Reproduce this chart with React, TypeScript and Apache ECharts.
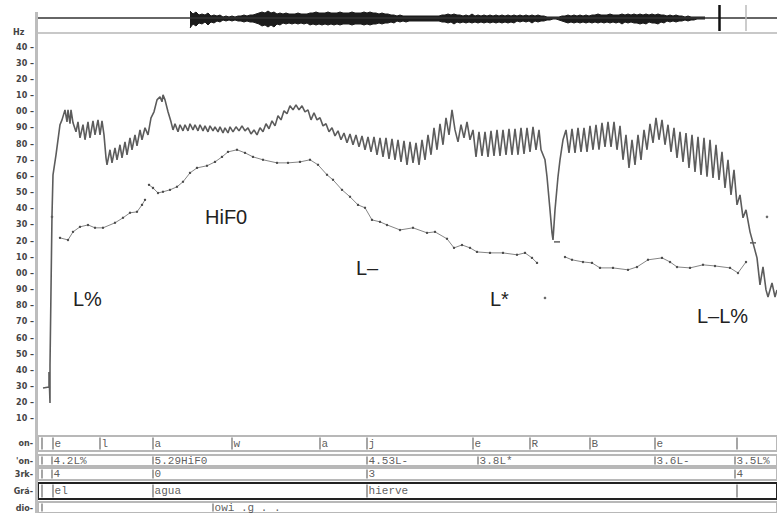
import React, { useEffect, useRef } from "react";
import * as echarts from "echarts";

// time in ms, pitch in Hz
const T_MAX = 2217;

// upper (jagged) contour [ms, Hz]
const upperContour: number[][] = [
  [15,29.1],[33,29.7],[33,39.0],[36,19.8],[36,43.3],[39,89.8],[42,136.2],[45,161],[54,173.4],[66,192],[72,195],[81,201.2],[87,193.8],[90,201.2],[96,192.6],[99,201.2],[105,193.2],[114,187.6],[120,193.8],[126,183.9],[135,192],[141,182.7],[150,193.8],[156,183.9],[165,194.4],[171,185.7],[180,195],[186,185.7],[192,194.4],[198,185.7],[204,171.5],[207,167.2],[216,176.5],[222,168.4],[231,177.7],[237,170.3],[246,179.6],[252,171.5],[261,181.4],[267,173.4],[276,183.9],[282,176.5],[291,185.7],[297,178.9],[306,188.8],[312,182.7],[321,190.1],[330,185.7],[339,196.3],[348,200],[357,207.4],[366,209.3],[372,206.2],[375,210.5],[381,207.4],[390,200],[399,193.8],[405,188.8],[411,192.6],[420,187.6],[426,192],[435,188.2],[441,192],[450,188.2],[456,192.6],[465,188.8],[471,192],[480,188.2],[486,192],[495,188.2],[501,191.3],[510,187.6],[516,191.3],[525,188.2],[531,190.7],[540,187.6],[546,190.7],[555,186.9],[561,190.1],[570,186.9],[576,190.7],[585,187.6],[594,190.7],[603,188.2],[612,191.3],[621,188.2],[630,190.1],[639,186.3],[648,188.8],[657,185.7],[666,190.1],[675,187.6],[684,192.6],[693,189.5],[702,194.4],[711,191.3],[720,197.5],[729,195],[738,200.6],[747,198.8],[756,203.7],[765,201.2],[774,204.3],[783,201.2],[792,203.7],[801,200],[810,201.2],[819,195],[828,199.4],[837,195],[846,196.3],[855,191.3],[864,192.6],[873,187.6],[882,190.1],[891,185.1],[900,188.2],[909,182.7],[918,186.9],[927,180.8],[936,186.3],[945,179.6],[954,185.7],[963,178.3],[972,185.1],[981,176.5],[990,184.5],[999,175.2],[1008,184.5],[1017,173.4],[1026,183.9],[1035,172.1],[1044,183.9],[1053,170.9],[1062,183.3],[1071,170.3],[1080,182.7],[1089,169],[1098,182],[1107,167.2],[1116,181.4],[1125,168.4],[1134,180.8],[1143,167.2],[1152,182.7],[1161,170.3],[1170,185.7],[1179,173.4],[1188,190.1],[1197,176.5],[1206,192.6],[1215,179.6],[1224,196.3],[1233,185.7],[1242,201.2],[1251,188.8],[1260,181.4],[1269,192],[1278,183.9],[1287,193.8],[1296,182.7],[1305,188.8],[1314,172.1],[1323,187.6],[1332,172.7],[1341,187.6],[1350,172.1],[1359,188.2],[1368,172.7],[1377,188.8],[1386,172.7],[1395,188.8],[1404,173.4],[1413,189.5],[1422,173.4],[1431,189.5],[1440,173.4],[1449,190.1],[1458,174],[1467,190.1],[1476,175.2],[1485,190.7],[1494,176.5],[1503,188.8],[1509,176.5],[1521,170.3],[1527,159.8],[1536,139.3],[1542,125.1],[1545,120.7],[1551,139.3],[1560,159.8],[1566,170.3],[1575,182.7],[1584,188.8],[1593,174.6],[1602,189.5],[1611,174.6],[1620,190.1],[1629,175.2],[1638,190.1],[1647,175.2],[1656,191.3],[1665,176.5],[1674,192],[1683,176.5],[1692,193.2],[1701,178.3],[1710,193.8],[1719,178.3],[1728,193.8],[1737,176.5],[1746,191.3],[1755,170.3],[1764,185.7],[1773,165.3],[1782,182.7],[1791,167.2],[1800,185.7],[1809,170.3],[1818,188.8],[1827,176.5],[1836,192.6],[1845,180.8],[1854,196.3],[1863,182.7],[1872,195],[1881,179.6],[1890,192],[1899,175.2],[1908,190.1],[1917,171.5],[1926,187.6],[1935,169],[1944,186.9],[1953,165.3],[1962,185.7],[1971,162.8],[1980,184.5],[1989,161],[1998,183.9],[2007,159.8],[2016,182.7],[2025,159.1],[2034,179.6],[2043,157.9],[2052,175.2],[2061,152.9],[2070,170.3],[2079,148.6],[2088,164.1],[2097,142.4],[2106,148.6],[2115,134.4],[2124,139.3],[2136,125.7],[2145,118.9],[2157,109.6],[2166,92.9],[2175,104],[2184,89.8],[2190,85.4],[2202,94.1],[2211,85.4],[2217,89.8]
];

// F0 contour with dots [ms, Hz]; null = gap
const f0Contour: (number[] | null)[] = [
  [66,122],[90,120.7],[105,125.7],[126,128.8],[150,130],[171,128.2],[195,128.2],[231,131.3],[255,134.4],[276,137.5],[297,138.1],[312,142.4],[321,145.5],
  null,
  [333,154.8],[345,152.9],[360,149.8],[375,150.5],[396,151.7],[417,153.6],[435,156.7],[456,162.2],[477,165.3],[507,166.6],[531,169],[552,172.1],[570,175.2],[597,176.5],[621,174.6],[645,172.1],[675,170.3],[717,168.4],[750,168.4],[786,169],[816,170.3],[840,167.2],[867,161],[885,157.9],[912,151.7],[936,147.4],[960,142.4],[981,140.6],[1002,133.1],[1026,131.9],[1047,130],[1086,126.9],[1125,128.2],[1167,125.1],[1191,125.7],[1227,121.4],[1248,115.8],[1272,117.6],[1296,115.8],[1317,113.3],[1356,112.7],[1395,112.7],[1437,111.5],[1461,112.7],[1482,109.6],[1497,106.5],
  null,
  [1581,110.2],[1602,108.4],[1635,107.1],[1662,106.5],[1686,103.4],[1725,103.4],[1770,102.2],[1797,104],[1830,108.4],[1872,109.6],[1896,107.1],[1917,104],[1956,103.4],[1995,105.3],[2031,104.6],[2076,103.4],[2100,100.3],[2124,107.1]
];

const isolatedDots: number[][] = [[42,135],[1521,84.8],[2187,135]];
const isolatedDashes: number[][] = [[1557,119.5],[2145,118.9]];

// waveform envelope [ms, positive amplitude, negative amplitude]
const waveEnvelope: number[][] = [
  [456,7,-10],[465,4,-6],[474,6,-8],[483,3,-5],[492,4,-6],[501,3,-4],[510,5,-7],[519,2,-4],[528,3,-5],[537,2,-3],[546,3,-4],[555,1,-2],[564,2,-3],[573,1,-2],[582,2,-3],[591,1,-2],[600,2,-3],[609,2,-3],[618,3,-4],[627,2,-3],[636,3,-4],[645,3,-4],[654,4,-5],[663,5,-6],[672,6,-8],[681,5,-7],[690,7,-9],[699,5,-7],[708,6,-9],[717,4,-6],[726,5,-7],[735,4,-5],[744,5,-6],[753,4,-5],[762,4,-6],[771,4,-5],[780,5,-6],[789,4,-5],[798,4,-6],[807,4,-5],[816,5,-7],[825,5,-6],[834,6,-7],[843,5,-6],[852,5,-7],[861,5,-6],[870,6,-7],[879,5,-6],[888,5,-7],[897,5,-6],[906,6,-7],[915,5,-6],[924,5,-6],[933,5,-6],[942,6,-7],[951,5,-6],[960,5,-6],[969,5,-6],[978,6,-7],[987,5,-6],[996,6,-7],[1005,5,-6],[1014,5,-6],[1023,4,-5],[1032,5,-6],[1041,4,-5],[1050,4,-5],[1059,3,-4],[1068,3,-5],[1077,2,-3],[1086,3,-4],[1095,2,-3],[1104,2,-4],[1113,2,-3],[1122,2,-3],[1131,2,-3],[1140,2,-3],[1149,2,-3],[1158,2,-3],[1167,2,-3],[1176,2,-3],[1185,2,-3],[1194,2,-3],[1203,2,-3],[1212,3,-4],[1221,3,-4],[1230,4,-5],[1239,3,-4],[1248,4,-6],[1257,3,-4],[1266,3,-5],[1275,2,-4],[1284,3,-5],[1293,2,-4],[1302,4,-5],[1311,2,-4],[1320,3,-5],[1329,2,-4],[1338,3,-5],[1347,2,-4],[1356,3,-5],[1365,2,-4],[1374,3,-5],[1383,2,-4],[1392,3,-5],[1401,2,-4],[1410,3,-5],[1419,2,-4],[1428,3,-5],[1437,2,-3],[1446,3,-4],[1455,2,-3],[1464,3,-4],[1473,2,-3],[1482,3,-5],[1491,2,-3],[1500,3,-4],[1509,2,-3],[1518,2,-3],[1527,1,-2],[1536,1,-2],[1545,1,-1],[1554,1,-1],[1563,1,-2],[1572,2,-3],[1581,2,-4],[1590,3,-5],[1599,2,-4],[1608,3,-5],[1617,2,-4],[1626,3,-5],[1635,2,-4],[1644,3,-5],[1653,2,-4],[1662,3,-5],[1671,3,-4],[1680,4,-5],[1689,3,-4],[1698,3,-5],[1707,3,-4],[1716,4,-5],[1725,3,-4],[1734,3,-5],[1743,3,-4],[1752,4,-6],[1761,3,-4],[1770,4,-5],[1779,3,-4],[1788,4,-5],[1797,3,-5],[1806,4,-6],[1815,3,-5],[1824,4,-6],[1833,3,-4],[1842,4,-5],[1851,3,-5],[1860,4,-6],[1869,3,-4],[1878,3,-5],[1887,2,-3],[1896,3,-4],[1905,2,-3],[1914,3,-4],[1923,2,-3],[1932,2,-3],[1941,1,-2],[1950,2,-3],[1959,1,-2],[1968,1,-2],[1977,1,-1],[1986,1,-1],[2001,1,-1]
];
const waveMarkDark = 2043;
const waveMarkLight = 2124;

// y tick labels (as printed, truncated to two digits)
const yTickLabels = ["10","20","30","40","50","60","70","80","90","00","10","20","30","40","50","60","70","80","90","00","10","20","30","40"];

// annotation tiers
const tierPhonT = [12, 45, 186, 345, 582, 846, 987, 1305, 1476, 1656, 1851, 2097];
const tierPhonLab = ["", "e", "l", "a", "w", "a", "j", "e", "R", "B", "e", ""];
const tierToneT = [12, 42, 345, 987, 1320, 1851, 2091];
const tierToneLab = ["", "4.2L%", "5.29HiF0", "4.53L-", "3.8L*", "3.6L-", "3.5L%"];
const tierBrkT = [12, 42, 345, 987, 2091];
const tierBrkLab = ["", "4", "0", "3", "4"];
const tierWordT = [12, 45, 345, 987, 2097];
const tierWordLab = ["", "el", "agua", "hierve", ""];
const tierMiscT = [12, 525];
const tierMiscLab = ["", "owi .g . ."];
const tierNames = ["on-", "'on-", "3rk-", "Grá-", "dio-"];

// pitch-accent annotations
const accentLabels = ["HiF0", "L%", "L–", "L*", "L–L%"];

export default function App() {
  const ref = useRef<HTMLDivElement>(null);
  useEffect(() => {
    document.body.style.margin = "0";
    if (!ref.current) return;
    const chart = echarts.init(ref.current, undefined, { renderer: "svg" });

    const tiers = [
      { t: tierPhonT, lab: tierPhonLab, top: 436, h: 15, border: "#b8b8b8" },
      { t: tierToneT, lab: tierToneLab, top: 455, h: 11, border: "#b8b8b8" },
      { t: tierBrkT, lab: tierBrkLab, top: 468, h: 12, border: "#b8b8b8" },
      { t: tierWordT, lab: tierWordLab, top: 483, h: 16, border: "#222" },
      { t: tierMiscT, lab: tierMiscLab, top: 502, h: 11, border: "#b8b8b8" },
    ];

    const grids: any[] = [
      { left: 38, right: 0, top: 5, height: 26 },
      { left: 38, right: 0, top: 31, height: 404 },
      ...tiers.map((r) => ({
        left: 38, right: 0, top: r.top, height: r.h, show: true,
        borderColor: r.border, borderWidth: 2, backgroundColor: "transparent",
      })),
    ];
    const xAxes: any[] = grids.map((_, i) => ({
      type: "value", gridIndex: i, min: 0, max: T_MAX, show: false,
    }));
    const yAxes: any[] = [
      { type: "value", gridIndex: 0, min: -13, max: 13, show: false },
      {
        type: "value", gridIndex: 1, min: 0, max: 250, interval: 10,
        axisLine: { show: false }, axisTick: { show: false }, splitLine: { show: false },
        axisLabel: {
          margin: 4, fontSize: 8, fontWeight: "bold", color: "#444", fontFamily: "DejaVu Sans",
          formatter: (v: number) => {
            const i = Math.round(v / 10) - 1;
            return i >= 0 && i < yTickLabels.length ? yTickLabels[i] + " –" : "";
          },
        },
      },
      ...tiers.map((_, i) => ({ type: "value", gridIndex: i + 2, min: 0, max: 1, show: false })),
    ];

    const series: any[] = [
      {
        type: "line", xAxisIndex: 0, yAxisIndex: 0, showSymbol: false,
        data: waveEnvelope.map((w) => [w[0], w[1]]),
        lineStyle: { color: "#1c1c1c", width: 1 },
        areaStyle: { color: "#1c1c1c", opacity: 1, origin: 0 },
        markLine: {
          silent: true, symbol: "none", label: { show: false },
          data: [
            { yAxis: 0, lineStyle: { color: "#333", width: 1.5, type: "solid" } },
            { xAxis: waveMarkDark, lineStyle: { color: "#111", width: 2.5, type: "solid" } },
            { xAxis: waveMarkLight, lineStyle: { color: "#bbb", width: 1.5, type: "solid" } },
          ],
        },
      },
      {
        type: "line", xAxisIndex: 0, yAxisIndex: 0, showSymbol: false,
        data: waveEnvelope.map((w) => [w[0], w[2]]),
        lineStyle: { color: "#1c1c1c", width: 1 },
        areaStyle: { color: "#1c1c1c", opacity: 1, origin: 0 },
      },
      {
        type: "line", xAxisIndex: 1, yAxisIndex: 1, showSymbol: false,
        data: upperContour,
        lineStyle: { color: "#5c5c5c", width: 1.6 },
      },
      {
        type: "line", xAxisIndex: 1, yAxisIndex: 1, connectNulls: false,
        symbol: "circle", symbolSize: 2.4,
        data: f0Contour.map((p) => (p ? p : ["-", "-"])),
        itemStyle: { color: "#4a4a4a" },
        lineStyle: { color: "#858585", width: 1 },
      },
      {
        type: "scatter", xAxisIndex: 1, yAxisIndex: 1, symbol: "circle", symbolSize: 2.6,
        data: isolatedDots, itemStyle: { color: "#444" },
      },
      {
        type: "scatter", xAxisIndex: 1, yAxisIndex: 1, symbol: "rect", symbolSize: [6, 1.6],
        data: isolatedDashes, itemStyle: { color: "#444" },
      },
      ...tiers.map((r, i) => ({
        type: "scatter", xAxisIndex: i + 2, yAxisIndex: i + 2,
        symbol: "rect", symbolSize: [1.2, r.h - 3],
        itemStyle: { color: "#444" },
        data: r.t.map((t, k) => ({ value: [t, 0.5], name: r.lab[k] })),
        label: {
          show: true, position: "right", distance: 1,
          formatter: (p: any) => p.name,
          fontFamily: "Liberation Mono", fontSize: 11, color: "#333",
        },
      })),
    ];

    const annPos = [
      { x: 205, y: 217 },
      { x: 73, y: 299 },
      { x: 356, y: 268 },
      { x: 490, y: 299 },
      { x: 697, y: 316 },
    ];
    const rowY = [443, 461, 474, 491, 508];

    const graphic: any[] = [
      { type: "rect", shape: { x: 35, y: 12, width: 3, height: 501 }, style: { fill: "#bdbdbd" }, silent: true },
      { type: "rect", shape: { x: 38, y: 32, width: 739, height: 2 }, style: { fill: "#c8c8c8" }, silent: true },
      {
        type: "text", x: 13, y: 32,
        style: { text: "Hz", fontSize: 8, fontWeight: "bold", fill: "#444", fontFamily: "DejaVu Sans", verticalAlign: "middle" },
      },
      ...accentLabels.map((t, i) => ({
        type: "text", x: annPos[i].x, y: annPos[i].y,
        style: { text: t, fontSize: 20, fill: "#222", fontFamily: "Liberation Sans", verticalAlign: "middle" },
      })),
      ...tierNames.map((t, i) => ({
        type: "text", x: 33, y: rowY[i],
        style: { text: t, fontSize: 8, fontWeight: "bold", fill: "#444", fontFamily: "DejaVu Sans", align: "right", verticalAlign: "middle" },
      })),
    ];

    chart.setOption({
      animation: false,
      backgroundColor: "#fff",
      grid: grids,
      xAxis: xAxes,
      yAxis: yAxes,
      series,
      graphic,
    });
    return () => chart.dispose();
  }, []);
  return <div ref={ref} style={{ width: 777, height: 513 }} />;
}
